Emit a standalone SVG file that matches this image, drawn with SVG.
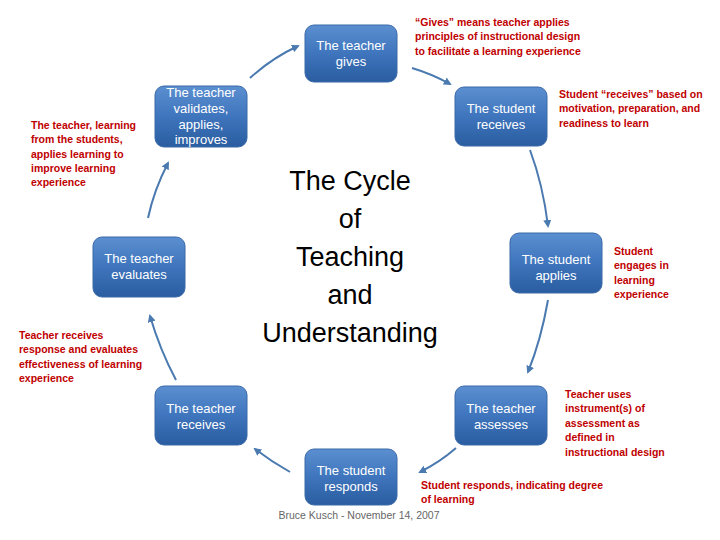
<svg xmlns="http://www.w3.org/2000/svg" width="720" height="540" viewBox="0 0 720 540">
<defs>
<linearGradient id="g" x1="0" y1="0" x2="0" y2="1"><stop offset="0" stop-color="#5b8fd0"/><stop offset="0.5" stop-color="#3f75bd"/><stop offset="1" stop-color="#2a5da0"/></linearGradient>
<marker id="a" markerWidth="8" markerHeight="8" refX="6" refY="4" orient="auto" markerUnits="userSpaceOnUse"><path d="M0,0 L8,4 L0,8 z" fill="#4a7ab0"/></marker>
<style>
.n{fill:url(#g);stroke:#3a6aa8;stroke-width:1}
.nt{font-family:"Liberation Sans",Arial,sans-serif;font-size:13px;fill:#fff;text-anchor:middle}
.r{font-family:"Liberation Sans",Arial,sans-serif;font-size:10.5px;font-weight:bold;fill:#c00000}
.c{fill:none;stroke:#4a7ab0;stroke-width:2;marker-end:url(#a)}
</style>
</defs>
<rect width="720" height="540" fill="#fff"/>
<g id="connectors">
<path class="c" d="M412,68 Q432,74 450,84"/>
<path class="c" d="M530,150 Q543,185 548,226"/>
<path class="c" d="M548,300 Q541,340 528,372"/>
<path class="c" d="M456,448 Q440,462 420,472"/>
<path class="c" d="M290,472 Q272,462 255,449"/>
<path class="c" d="M176,380 Q160,350 150,316"/>
<path class="c" d="M148,218 Q154,190 168,163"/>
<path class="c" d="M250,78 Q272,58 298,46"/>
</g>
<g id="n1"><rect class="n" x="305" y="25" width="92" height="57" rx="9"/><text class="nt" x="351" y="50">The teacher</text><text class="nt" x="351" y="66">gives</text></g>
<g id="n2"><rect class="n" x="455" y="87" width="92" height="59" rx="9"/><text class="nt" x="501" y="113">The student</text><text class="nt" x="501" y="129">receives</text></g>
<g id="n3"><rect class="n" x="510" y="233" width="92" height="60" rx="9"/><text class="nt" x="556" y="264">The student</text><text class="nt" x="556" y="280">applies</text></g>
<g id="n4"><rect class="n" x="455" y="386" width="92" height="59" rx="9"/><text class="nt" x="501" y="413">The teacher</text><text class="nt" x="501" y="429">assesses</text></g>
<g id="n5"><rect class="n" x="305" y="449" width="92" height="56" rx="9"/><text class="nt" x="351" y="475">The student</text><text class="nt" x="351" y="491">responds</text></g>
<g id="n6"><rect class="n" x="155" y="386" width="92" height="59" rx="9"/><text class="nt" x="201" y="413">The teacher</text><text class="nt" x="201" y="429">receives</text></g>
<g id="n7"><rect class="n" x="93" y="237" width="92" height="60" rx="9"/><text class="nt" x="139" y="263">The teacher</text><text class="nt" x="139" y="279">evaluates</text></g>
<g id="n8"><rect class="n" x="155" y="86" width="92" height="61" rx="9"/><text class="nt" x="201" y="97">The teacher</text><text class="nt" x="201" y="113">validates,</text><text class="nt" x="201" y="129">applies,</text><text class="nt" x="201" y="144">improves</text></g>
<g id="title" font-family="Liberation Sans,Arial,sans-serif" font-size="27" fill="#000" text-anchor="middle">
<text x="350" y="190">The Cycle</text><text x="350" y="228">of</text><text x="350" y="266">Teaching</text><text x="350" y="304">and</text><text x="350" y="342">Understanding</text>
</g>
<g id="notes">
<text class="r" x="415" y="26">“Gives” means teacher applies</text>
<text class="r" x="415" y="40">principles of instructional design</text>
<text class="r" x="415" y="55">to facilitate a learning experience</text>
<text class="r" x="559" y="98">Student “receives” based on</text>
<text class="r" x="559" y="112">motivation, preparation, and</text>
<text class="r" x="559" y="127">readiness to learn</text>
<text class="r" x="614" y="255">Student</text>
<text class="r" x="614" y="269">engages in</text>
<text class="r" x="614" y="284">learning</text>
<text class="r" x="614" y="298">experience</text>
<text class="r" x="565" y="398">Teacher uses</text>
<text class="r" x="565" y="412">instrument(s) of</text>
<text class="r" x="565" y="427">assessment as</text>
<text class="r" x="565" y="441">defined in</text>
<text class="r" x="565" y="456">instructional design</text>
<text class="r" x="421" y="489">Student responds, indicating degree</text>
<text class="r" x="421" y="503">of learning</text>
<text class="r" x="31" y="129">The teacher, learning</text>
<text class="r" x="31" y="143">from the students,</text>
<text class="r" x="31" y="158">applies learning to</text>
<text class="r" x="31" y="172">improve learning</text>
<text class="r" x="31" y="186">experience</text>
<text class="r" x="19" y="339">Teacher receives</text>
<text class="r" x="19" y="353">response and evaluates</text>
<text class="r" x="19" y="368">effectiveness of learning</text>
<text class="r" x="19" y="382">experience</text>
</g>
<text x="359" y="519" font-family="Liberation Sans,Arial,sans-serif" font-size="10.5" fill="#666" text-anchor="middle">Bruce Kusch - November 14, 2007</text>
</svg>
